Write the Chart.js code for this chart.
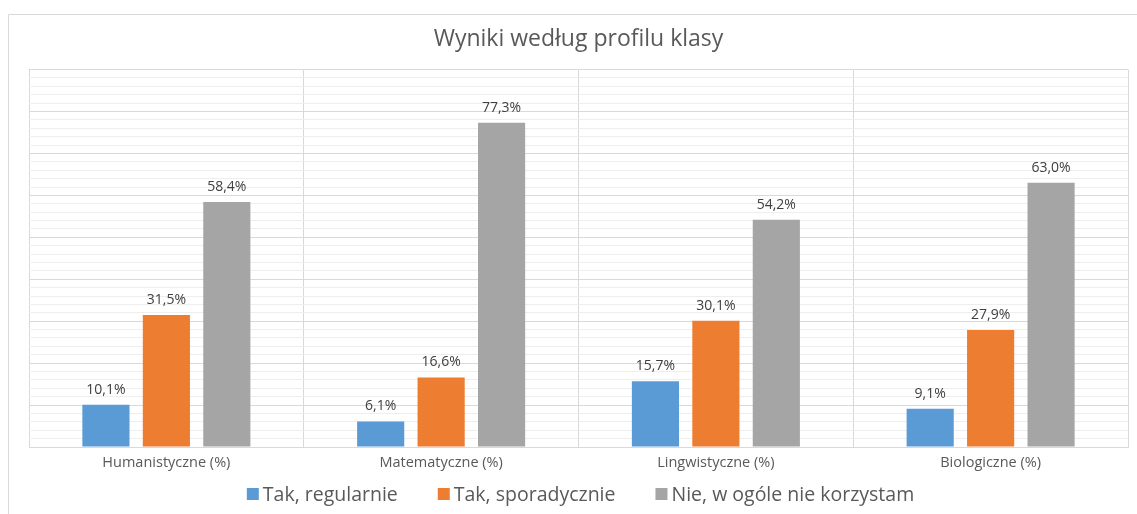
<!DOCTYPE html>
<html>
<head>
<meta charset="utf-8">
<script src="https://cdn.jsdelivr.net/npm/chart.js@4/dist/chart.umd.min.js"></script>
<style>
  html, body { margin: 0; padding: 0; background: #fff; }
  #wrap { width: 1137px; height: 514px; }
</style>
</head>
<body>
<div id="wrap"><canvas id="myChart" width="1137" height="514"></canvas></div>
<script>
const categories = ["Humanistyczne (%)", "Matematyczne (%)", "Lingwistyczne (%)", "Biologiczne (%)"];
const seriesNames = ["Tak, regularnie", "Tak, sporadycznie", "Nie, w ogóle nie korzystam"];
const regularnie = [10.1, 6.1, 15.7, 9.1];
const sporadycznie = [31.5, 16.6, 30.1, 27.9];
const nieKorzystam = [58.4, 77.3, 54.2, 63.0];
const yMax = 90;

const fontName = "'Open Sans', Lato, sans-serif";

// frame around the whole chart
const framePlugin = {
  id: "frame",
  beforeDraw(chart) {
    const c = chart.ctx;
    c.save();
    c.strokeStyle = "#d9d9d9";
    c.lineWidth = 1;
    c.beginPath();
    c.moveTo(8.5, 514);
    c.lineTo(8.5, 14.5);
    c.lineTo(1137, 14.5);
    c.stroke();
    c.restore();
  }
};

// value labels above bars, polish decimal comma
const labelsPlugin = {
  id: "valueLabels",
  afterDatasetsDraw(chart) {
    const c = chart.ctx;
    c.save();
    c.font = "14px " + fontName;
    c.fillStyle = "#404040";
    c.textAlign = "center";
    c.textBaseline = "bottom";
    chart.data.datasets.forEach((ds, i) => {
      chart.getDatasetMeta(i).data.forEach((bar, j) => {
        const txt = ds.data[j].toFixed(1).replace(".", ",") + "%";
        c.fillText(txt, bar.x, bar.y - 8);
      });
    });
    c.restore();
  }
};

// legend drawn by hand: wide gaps between items but close to the axis labels
const legendPlugin = {
  id: "bottomLegend",
  afterDraw(chart) {
    const c = chart.ctx;
    const box = 12, gap = 4, itemGap = 40, y = 494;
    c.save();
    c.font = "19.5px " + fontName;
    c.textBaseline = "middle";
    const items = chart.data.datasets.map((ds) => ({ text: ds.label, color: ds.backgroundColor, w: c.measureText(ds.label).width }));
    let total = 0;
    items.forEach((it, i) => { total += box + gap + it.w + (i > 0 ? itemGap : 0); });
    let x = (chart.chartArea.left + chart.chartArea.right) / 2 + 2 - total / 2;
    items.forEach((it) => {
      c.fillStyle = it.color;
      c.fillRect(x, y - box / 2, box, box);
      c.fillStyle = "#595959";
      c.fillText(it.text, x + box + gap, y + 1);
      x += box + gap + it.w + itemGap;
    });
    c.restore();
  }
};

const ctx = document.getElementById("myChart");
const myChart = new Chart(ctx, {
  type: "bar",
  data: {
    labels: categories,
    datasets: [
      { label: seriesNames[0], data: regularnie, backgroundColor: "#5b9bd5" },
      { label: seriesNames[1], data: sporadycznie, backgroundColor: "#ed7d31" },
      { label: seriesNames[2], data: nieKorzystam, backgroundColor: "#a5a5a5" },
    ],
  },
  options: {
    responsive: false,
    animation: false,
    events: [],
    categoryPercentage: 0.66,
    barPercentage: 0.78,
    layout: {
      padding: { left: 29, right: 9, top: 26, bottom: 0 },
    },
    plugins: {
      title: {
        display: true,
        text: "Wyniki według profilu klasy",
        color: "#595959",
        font: { family: fontName, size: 23, weight: "normal" },
        padding: { top: 0, bottom: 16 },
      },
      legend: { display: false },
      tooltip: { enabled: false },
    },
    scales: {
      x: {
        afterFit(scale) { scale.height = 67; },
        grid: { color: "#d9d9d9", offset: true, drawTicks: false },
        border: { color: "#d9d9d9" },
        ticks: {
          color: "#595959",
          padding: 7,
          font: { family: fontName, size: 14.5 },
        },
      },
      y: {
        min: 0,
        max: yMax,
        afterFit(scale) { scale.width = 0; },
        border: { display: false },
        grid: {
          drawTicks: false,
          color: (c) => (c.tick && c.tick.value % 10 === 0 ? "#d9d9d9" : "#eeeeee"),
        },
        ticks: { display: false, stepSize: 2 },
      },
    },
  },
  plugins: [framePlugin, labelsPlugin, legendPlugin],
});
</script>
</body>
</html>
